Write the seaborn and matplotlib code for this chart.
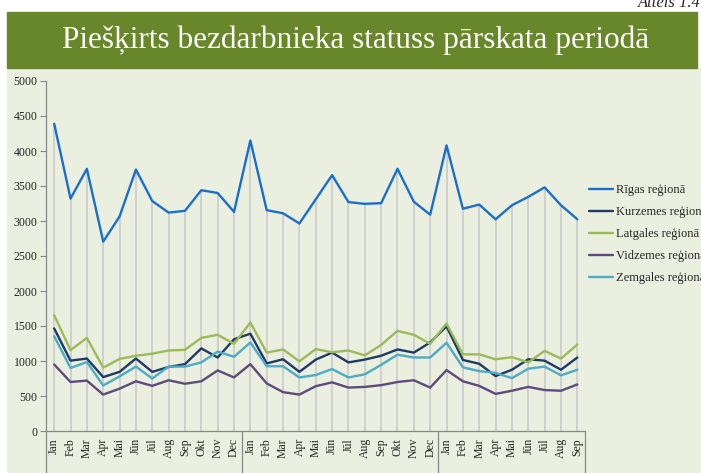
import numpy as np
import pandas as pd
import seaborn as sns
import matplotlib.pyplot as plt
from matplotlib.patches import Rectangle

# Dati
menesi = ["Jan", "Feb", "Mar", "Apr", "Mai", "Jūn", "Jūl", "Aug", "Sep", "Okt", "Nov", "Dec"]
gadi = ["2017", "2018", "2019"]
menesu_skaits = [12, 12, 9]

riga = [4390, 3320, 3745, 2705, 3065, 3735, 3285, 3120, 3145, 3440, 3400, 3130,
        4150, 3155, 3110, 2965, 3310, 3655, 3270, 3245, 3255, 3745, 3275, 3090,
        4080, 3175, 3235, 3025, 3225, 3345, 3480, 3225, 3025]
kurzeme = [1465, 1005, 1035, 770, 845, 1035, 845, 915, 955, 1180, 1050, 1310,
           1390, 965, 1025, 845, 1020, 1120, 980, 1020, 1075, 1165, 1120, 1265,
           1495, 1015, 960, 785, 875, 1025, 1005, 875, 1050]
latgale = [1655, 1155, 1330, 905, 1030, 1075, 1105, 1150, 1160, 1330, 1375, 1245,
           1550, 1120, 1165, 995, 1170, 1125, 1150, 1080, 1230, 1430, 1375, 1245,
           1535, 1095, 1095, 1025, 1055, 980, 1145, 1035, 1235]
vidzeme = [950, 700, 720, 520, 605, 710, 645, 725, 675, 710, 865, 765,
           955, 680, 555, 520, 640, 695, 620, 630, 655, 700, 725, 620,
           870, 710, 645, 530, 575, 630, 585, 575, 665]
zemgale = [1355, 900, 985, 650, 780, 920, 750, 920, 920, 980, 1135, 1060,
           1265, 925, 925, 765, 800, 885, 765, 810, 945, 1090, 1050, 1050,
           1260, 910, 855, 830, 755, 890, 920, 795, 875]

regioni = ["Rīgas reģionā", "Kurzemes reģionā", "Latgales reģionā", "Vidzemes reģionā", "Zemgales reģionā"]
krasas = ["#1a6fcb", "#1f3a64", "#9bbb59", "#5f4a7e", "#4bacc6"]

etiketes = []
for g, n in zip(gadi, menesu_skaits):
    etiketes += menesi[:n]
idx = np.arange(len(etiketes))

df = pd.DataFrame({"idx": np.tile(idx, 5),
                   "vertiba": riga + kurzeme + latgale + vidzeme + zemgale,
                   "regions": np.repeat(regioni, len(idx))})

sns.set_theme(style="white")
plt.rcParams['font.family'] = 'serif'
plt.rcParams['font.serif'] = ['Liberation Serif', 'DejaVu Serif']

fons = "#ebefdf"
zals = "#67872a"

fig = plt.figure(figsize=(7.01, 4.73), dpi=100)
fig.patches.append(Rectangle((7 / 701, 0), 1, 1 - 68 / 473, transform=fig.transFigure,
                             color=fons, zorder=-10))
fig.patches.append(Rectangle((7 / 701, 1 - 68 / 473), 690 / 701, 56 / 473,
                             transform=fig.transFigure, color=zals, zorder=-10))
fig.text(356 / 701, 1 - 40 / 473, "Piešķirts bezdarbnieka statuss pārskata periodā",
         color="white", fontsize=22.5, ha="center", va="center")
fig.text(1.0, 1 - 3 / 473, "Attēls 1.4", fontsize=12, style="italic", ha="right", va="center")

ax = fig.add_axes([46 / 701, 1 - 431 / 473, 539.5 / 701, 350 / 473])
ax.set_facecolor("none")

# kritiena liniijas
maks = df.groupby("idx")["vertiba"].max()
ax.vlines(maks.index, 0, maks.values, color="#c8c8c8", lw=1.1, zorder=1)

sns.lineplot(data=df, x="idx", y="vertiba", hue="regions", hue_order=regioni,
             palette=dict(zip(regioni, krasas)), lw=1.7, ax=ax, zorder=3)

ax.set_xlim(-0.5, len(idx) - 0.5)
ax.set_ylim(0, 5000)
ax.set_yticks(range(0, 5001, 500))
ax.set_xticks(idx)
ax.set_xticklabels(etiketes, rotation=90, fontsize=8.5)
ax.tick_params(axis="x", length=0, pad=5)
ax.tick_params(axis="y", length=4, width=0.8, color="#888888", labelsize=8.5, pad=2, left=True)
ax.set_xlabel("")
ax.set_ylabel("")
for s in ["top", "right"]:
    ax.spines[s].set_visible(False)
for s in ["left", "bottom"]:
    ax.spines[s].set_color("#888888")
    ax.spines[s].set_linewidth(0.9)

# gadu grupas
robezas = [-0.5]
for n in menesu_skaits:
    robezas.append(robezas[-1] + n)
trans = ax.get_xaxis_transform()
for r in robezas:
    ax.plot([r, r], [0, -0.2], transform=trans, color="#888888", lw=0.9, clip_on=False)
for g, a, b in zip(gadi, robezas[:-1], robezas[1:]):
    ax.text((a + b) / 2, -0.12, g, transform=trans, ha="center", va="top", fontsize=8.5)

h, l = ax.get_legend_handles_labels()
ax.legend(h, l, loc="upper left", bbox_to_anchor=(578 / 701, 1 - 173 / 473),
          bbox_transform=fig.transFigure, frameon=False, fontsize=9,
          handlelength=1.9, handletextpad=0.2, labelspacing=0.8)

fig.savefig("out.png", dpi=100, facecolor="white")
